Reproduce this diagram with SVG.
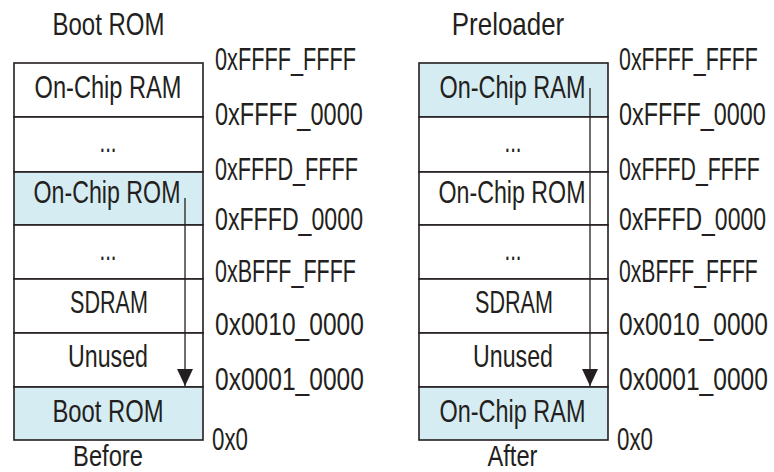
<svg xmlns="http://www.w3.org/2000/svg" width="774" height="472" viewBox="0 0 774 472">
  <style>
    .cell { fill: #ffffff; stroke: #231f20; stroke-width: 1.6; }
    .hl { fill: #d6ecf3; }
    .t { font-family: "Liberation Sans", Arial, sans-serif; font-size: 32px; fill: #231f20; text-anchor: middle; }
    .cap { font-size: 30px; }
    .a { font-family: "Liberation Sans", Arial, sans-serif; font-size: 32px; fill: #231f20; text-anchor: start; }
    .conn { stroke: #231f20; stroke-width: 1.3; fill: none; }
  </style>
  <defs>
    <marker id="arrow" markerUnits="userSpaceOnUse" markerWidth="18" markerHeight="24" refX="17" refY="8" orient="auto">
      <polygon points="0,0 17,8 0,16" fill="#231f20"/>
    </marker>
  </defs>
  <rect width="774" height="472" fill="#ffffff"/>

  <!-- Before (Boot ROM) map -->
  <g id="before-title"><text class="t" transform="translate(108.5,35) scale(0.75,1)">Boot ROM</text></g>
  <g id="before-onchip-ram"><rect class="cell" x="14" y="63" width="189" height="54"/><text class="t" transform="translate(108,98) scale(0.738,1)">On-Chip RAM</text></g>
  <g id="before-dots1"><rect class="cell" x="14" y="117" width="189" height="55"/><text class="t" transform="translate(108,152) scale(0.64,1)">...</text></g>
  <g id="before-onchip-rom"><rect class="cell hl" x="14" y="172" width="189" height="53"/><text class="t" transform="translate(107,203) scale(0.725,1)">On-Chip ROM</text></g>
  <g id="before-dots2"><rect class="cell" x="14" y="225" width="189" height="54"/><text class="t" transform="translate(108,260) scale(0.64,1)">...</text></g>
  <g id="before-sdram"><rect class="cell" x="14" y="279" width="189" height="54"/><text class="t" transform="translate(109,313) scale(0.675,1)">SDRAM</text></g>
  <g id="before-unused"><rect class="cell" x="14" y="333" width="189" height="54"/><text class="t" transform="translate(108,367) scale(0.725,1)">Unused</text></g>
  <g id="before-bootrom"><rect class="cell hl" x="14" y="387" width="189" height="53"/><text class="t" transform="translate(108,422) scale(0.745,1)">Boot ROM</text></g>
  <g id="before-caption"><text class="t cap" transform="translate(108,465.5) scale(0.79,1)">Before</text></g>

  <g id="before-addresses">
    <text class="a" transform="translate(215,70) scale(0.678,1)">0xFFFF_FFFF</text>
    <text class="a" transform="translate(215,125) scale(0.736,1)">0xFFFF_0000</text>
    <text class="a" transform="translate(215,180) scale(0.676,1)">0xFFFD_FFFF</text>
    <text class="a" transform="translate(215,230) scale(0.724,1)">0xFFFD_0000</text>
    <text class="a" transform="translate(215,282) scale(0.672,1)">0xBFFF_FFFF</text>
    <text class="a" transform="translate(215,335) scale(0.768,1)">0x0010_0000</text>
    <text class="a" transform="translate(215,390) scale(0.768,1)">0x0001_0000</text>
    <text class="a" transform="translate(212,450) scale(0.698,1)">0x0</text>
  </g>

  <!-- After (Preloader) map -->
  <g id="after-title"><text class="t" transform="translate(508,35) scale(0.81,1)">Preloader</text></g>
  <g id="after-onchip-ram-top"><rect class="cell hl" x="419" y="63" width="189" height="54"/><text class="t" transform="translate(512.5,98) scale(0.733,1)">On-Chip RAM</text></g>
  <g id="after-dots1"><rect class="cell" x="419" y="117" width="189" height="55"/><text class="t" transform="translate(513,152) scale(0.64,1)">...</text></g>
  <g id="after-onchip-rom"><rect class="cell" x="419" y="172" width="189" height="53"/><text class="t" transform="translate(512,203) scale(0.725,1)">On-Chip ROM</text></g>
  <g id="after-dots2"><rect class="cell" x="419" y="225" width="189" height="54"/><text class="t" transform="translate(513,260) scale(0.64,1)">...</text></g>
  <g id="after-sdram"><rect class="cell" x="419" y="279" width="189" height="54"/><text class="t" transform="translate(514,313) scale(0.675,1)">SDRAM</text></g>
  <g id="after-unused"><rect class="cell" x="419" y="333" width="189" height="54"/><text class="t" transform="translate(513,367) scale(0.725,1)">Unused</text></g>
  <g id="after-onchip-ram-bottom"><rect class="cell hl" x="419" y="387" width="189" height="53"/><text class="t" transform="translate(512.5,422) scale(0.733,1)">On-Chip RAM</text></g>
  <g id="after-caption"><text class="t cap" transform="translate(512.5,465.5) scale(0.79,1)">After</text></g>

  <g id="after-addresses">
    <text class="a" transform="translate(619,70) scale(0.668,1)">0xFFFF_FFFF</text>
    <text class="a" transform="translate(619,125) scale(0.731,1)">0xFFFF_0000</text>
    <text class="a" transform="translate(619,180) scale(0.666,1)">0xFFFD_FFFF</text>
    <text class="a" transform="translate(619,230) scale(0.719,1)">0xFFFD_0000</text>
    <text class="a" transform="translate(619,282) scale(0.662,1)">0xBFFF_FFFF</text>
    <text class="a" transform="translate(619,335) scale(0.768,1)">0x0010_0000</text>
    <text class="a" transform="translate(619,390) scale(0.768,1)">0x0001_0000</text>
    <text class="a" transform="translate(617,450) scale(0.698,1)">0x0</text>
  </g>

  <!-- Connectors -->
  <g id="connectors">
    <line class="conn" x1="185" y1="198" x2="185" y2="386" marker-end="url(#arrow)"/>
    <line class="conn" x1="590" y1="88" x2="590" y2="386" marker-end="url(#arrow)"/>
  </g>
</svg>
